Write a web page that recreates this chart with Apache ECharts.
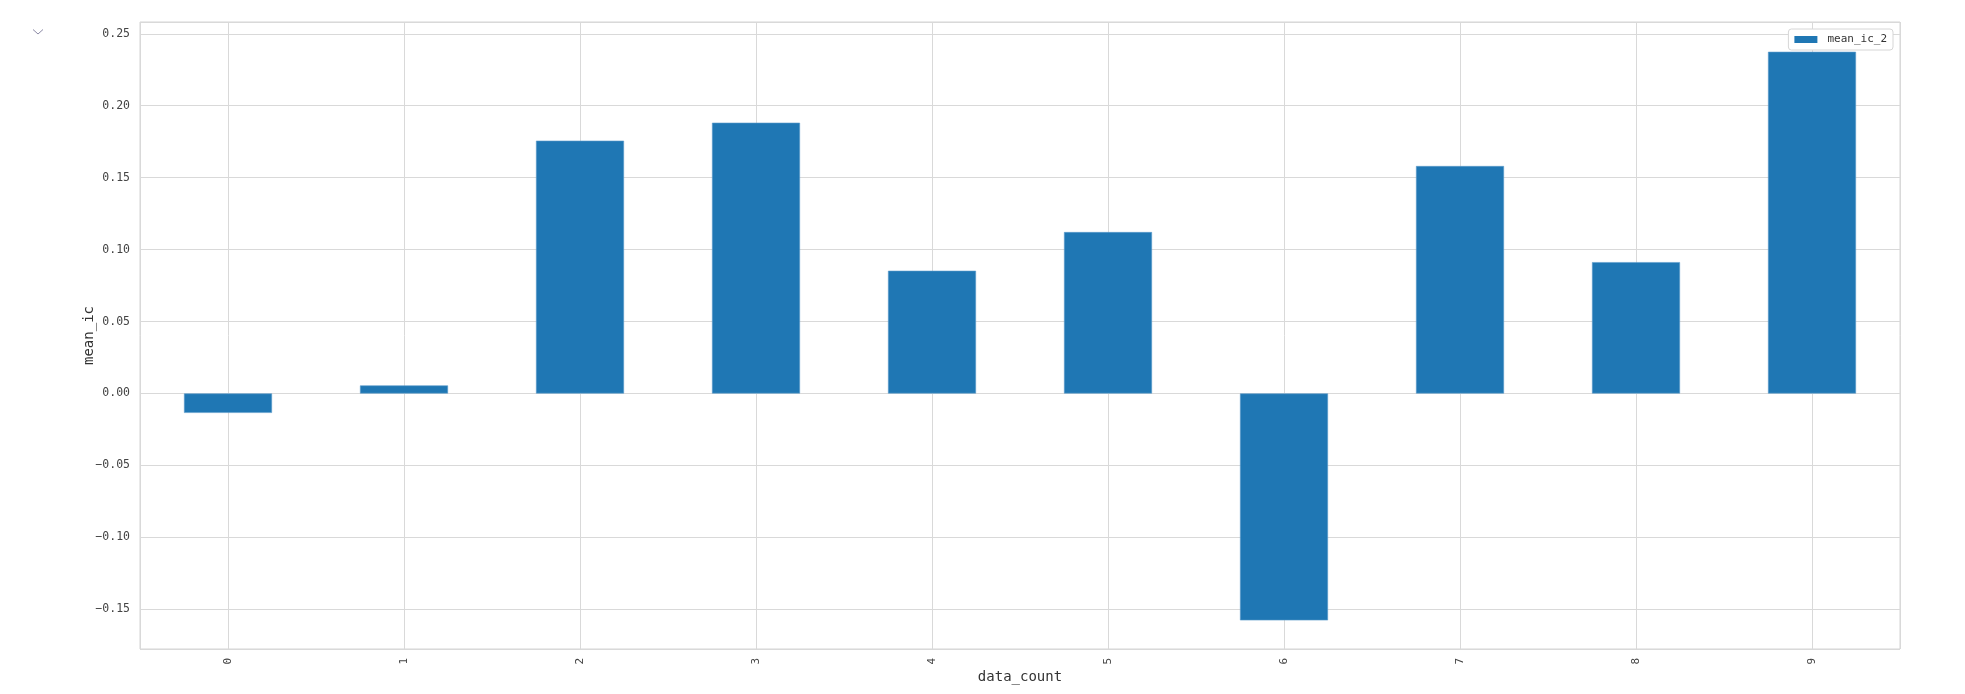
<!DOCTYPE html>
<html>
<head>
<meta charset="utf-8">
<script src="https://cdn.jsdelivr.net/npm/echarts@6/dist/echarts.min.js"></script>
<style>
html,body{margin:0;padding:0;background:#fff;}
#chart{width:1965px;height:694px;}
</style>
</head>
<body>
<div id="chart"></div>
<script>
const categories = ['0','1','2','3','4','5','6','7','8','9'];
const meanIc2 = [-0.0135, 0.0056, 0.1757, 0.1882, 0.0853, 0.1122, -0.1577, 0.1581, 0.0913, 0.2375];
const seriesName = 'mean_ic_2';
const xName = 'data_count';
const yName = 'mean_ic';
const yMin = -0.1776;
const yMax = 0.2582;

const FONT = '"DejaVu Sans Mono", "Liberation Mono", monospace';
const chart = echarts.init(document.getElementById('chart'), null, {renderer: 'canvas'});

function fmt(v) {
  const s = Math.abs(v).toFixed(2);
  return v < -1e-9 ? '\u2212' + s : s;
}

chart.setOption({
  animation: false,
  backgroundColor: '#ffffff',
  grid: {
    left: 140, right: 65, top: 22, bottom: 45,
    show: true, borderColor: '#d4d4d4', borderWidth: 1, backgroundColor: 'transparent'
  },
  legend: {
    data: [seriesName],
    right: 72, top: 29,
    icon: 'rect', itemWidth: 23, itemHeight: 7,
    padding: [5, 6, 5, 6],
    borderColor: '#d6d6d6', borderWidth: 1, borderRadius: 3,
    backgroundColor: '#ffffff',
    itemStyle: {borderWidth: 0},
    textStyle: {fontFamily: FONT, fontSize: 11, color: '#333', padding: [0, 0, 0, 5]}
  },
  xAxis: [{
    type: 'category',
    data: categories,
    boundaryGap: true,
    name: xName,
    nameLocation: 'middle',
    nameGap: 21,
    nameMoveOverlap: false,
    nameTextStyle: {fontFamily: FONT, fontSize: 14, color: '#333'},
    axisLine: {show: false},
    axisTick: {show: false},
    splitLine: {show: false},
    axisLabel: {rotate: 90, margin: 9, fontFamily: FONT, fontSize: 11, color: '#444'}
  }, {
    type: 'value',
    min: -0.5, max: 9.5, splitNumber: 10,
    show: true,
    position: 'bottom',
    axisLine: {show: false}, axisTick: {show: false}, axisLabel: {show: false},
    splitLine: {show: true, lineStyle: {color: '#d9d9d9', width: 1}}
  }],
  yAxis: {
    type: 'value',
    min: yMin, max: yMax,
    splitNumber: 8,
    name: yName,
    nameLocation: 'middle',
    nameGap: 44,
    nameMoveOverlap: false,
    nameTextStyle: {fontFamily: FONT, fontSize: 14, color: '#333'},
    axisLine: {show: false},
    axisTick: {show: false},
    axisLabel: {
      margin: 10, fontFamily: FONT, fontSize: 11.5, color: '#444',
      showMinLabel: false, showMaxLabel: false,
      formatter: function (v) {
        const r = Math.round(v / 0.05) * 0.05;
        if (Math.abs(r - v) > 1e-6) return '';
        return fmt(r);
      }
    },
    splitLine: {show: true, lineStyle: {color: '#d9d9d9', width: 1}}
  },
  graphic: [{
    type: 'polyline',
    shape: {points: [[33, 29.5], [38, 34], [43, 29.5]]},
    style: {stroke: '#8c8aa6', lineWidth: 1, fill: null}
  }],
  series: [{
    name: seriesName,
    type: 'bar',
    xAxisIndex: 0,
    data: meanIc2,
    barWidth: '50%',
    itemStyle: {color: '#1f77b4', borderColor: '#5b9bcb', borderWidth: 0.6}
  }]
});
</script>
</body>
</html>
